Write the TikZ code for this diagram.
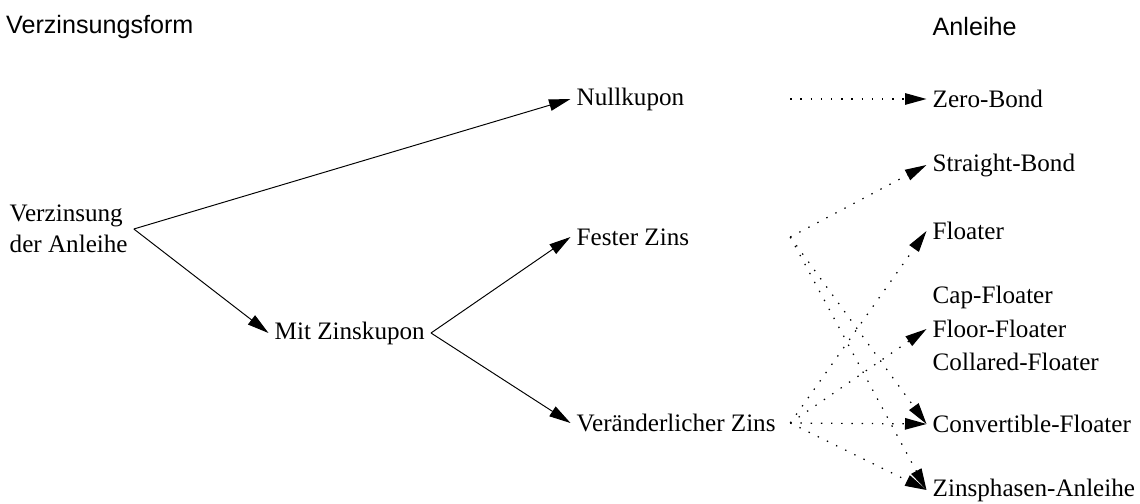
\documentclass[tikz,border=0pt]{standalone}
\usepackage{fontspec}
\setmainfont{Liberation Serif}
\setsansfont{Liberation Sans}
\usepackage{tikz}
\usetikzlibrary{calc, arrows.meta}

\begin{document}
\begin{tikzpicture}[
        every node/.style={font=\fontsize{14.3pt}{17.6pt}\selectfont},
        item/.style={anchor=west, align=left},
        head/.style={anchor=west, font=\fontsize{14.3pt}{17.6pt}\selectfont\sffamily},
        tip/.style={-{Triangle[length=4.3mm, width=2.3mm]}, line width=0.55pt},
        dotline/.style={tip, line width=0.7pt, dash pattern=on 0.8pt off 5pt}
    ]

        \useasboundingbox (0,0) rectangle (22.8,-10.08);

        %% Headings
        \node (form) [head] at (0,-0.54) {Verzinsungsform};
        \node (anl) [head] at (18.53,-0.54) {Anleihe};

        %% Interest forms
        \node (verz) [item] at (0.07,-4.58) {Verzinsung\\der Anleihe};
        \node (mit) [item] at (5.37,-6.66) {Mit Zinskupon};
        \node (null) [item] at (11.41,-1.98) {Nullkupon};
        \node (fest) [item] at (11.41,-4.74) {Fester Zins};
        \node (var) [item] at (11.41,-8.46) {Veränderlicher Zins};

        %% Bond types
        \node (zero) [item] at (18.53,-1.98) {Zero-Bond};
        \node (straight) [item] at (18.53,-3.30) {Straight-Bond};
        \node (floater) [item] at (18.53,-4.62) {Floater};
        \node (cap) [item] at (18.53,-5.94) {Cap-Floater};
        \node (floor) [item] at (18.53,-6.58) {Floor-Floater};
        \node (coll) [item] at (18.53,-7.24) {Collared-Floater};
        \node (conv) [item] at (18.53,-8.48) {Convertible-Floater};
        \node (phase) [item] at (18.53,-9.80) {Zinsphasen-Anleihe};

        %% start points of the dotted links
        \coordinate (varout) at ($(var.east) + (0.17,0)$);
        \coordinate (festout) at (fest.east -| varout);
        \coordinate (nullout) at (null.east -| varout);

        %% Arrows
        \draw [tip] (verz.east) -- (null.west);
        \draw [tip] (verz.east) -- (mit.west);
        \draw [tip] (mit.east) -- (fest.west);
        \draw [tip] (mit.east) -- (var.west);

        %% Dotted links to the bonds
        \draw [dotline] (nullout) -- (zero.west);
        \draw [dotline] (festout) -- (straight.west);
        \draw [dotline] (festout) -- (conv.west);
        \draw [dotline] (festout) -- (phase.west);
        \draw [dotline] (varout) -- (floater.west);
        \draw [dotline] (varout) -- (floor.west);
        \draw [dotline] (varout) -- (conv.west);
        \draw [dotline] (varout) -- (phase.west);

    \end{tikzpicture}
\end{document}
